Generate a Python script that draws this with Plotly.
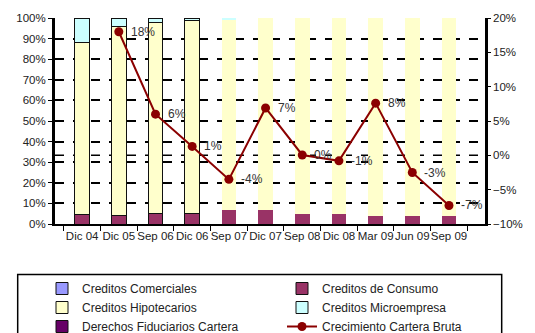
import plotly.graph_objects as go

categories = ["Dic 04", "Dic 05", "Sep 06", "Dic 06", "Sep 07", "Dic 07",
              "Sep 08", "Dic 08", "Mar 09", "Jun 09", "Sep 09"]
comerciales = [0.0, 0.0, 0.0, 0.0, 0.0, 0.0, 0.0, 0.0, 0.0, 0.0, 0.0]
consumo = [0.045, 0.04, 0.05, 0.05, 0.07, 0.07, 0.05, 0.05, 0.04, 0.04, 0.04]
hipotecarios = [0.835, 0.92, 0.93, 0.94, 0.925, 0.93, 0.95, 0.95, 0.96, 0.96, 0.96]
microempresa = [0.12, 0.04, 0.02, 0.01, 0.005, 0.0, 0.0, 0.0, 0.0, 0.0, 0.0]
derechos = [0.0, 0.0, 0.0, 0.0, 0.0, 0.0, 0.0, 0.0, 0.0, 0.0, 0.0]
crecimiento = [None, 0.18, 0.06, 0.013, -0.035, 0.069, 0.0005, -0.008, 0.076, -0.025, -0.073]
crec_labels = ["", "18%", "6%", "1%", "-4%", "7%", "0%", "-1%", "8%", "-3%", "-7%"]

FONT = "Liberation Sans, Arial, sans-serif"
outline = [1, 1, 1, 1, 0, 0, 0, 0, 0, 0, 0]

fig = go.Figure()

def bar(name, vals, color, legend):
    fig.add_trace(go.Bar(
        x=categories, y=vals, name=name, yaxis="y", legend=legend,
        marker=dict(color=color, line=dict(color="#111", width=outline)),
        hoverinfo="skip",
    ))

bar("Creditos Comerciales", comerciales, "#9999FF", "legend")
bar("Creditos de Consumo", consumo, "#993366", "legend2")
bar("Creditos Hipotecarios", hipotecarios, "#FFFFCC", "legend")
bar("Creditos Microempresa", microempresa, "#CCFFFF", "legend2")
bar("Derechos Fiduciarios Cartera", derechos, "#660066", "legend")

fig.add_trace(go.Scatter(
    x=categories, y=crecimiento, name="Crecimiento Cartera Bruta", yaxis="y2",
    legend="legend2", mode="lines+markers",
    line=dict(color="#8B0000", width=2),
    marker=dict(color="#8B0000", size=9, symbol="circle"),
    hoverinfo="skip",
))

for c, v, t in zip(categories, crecimiento, crec_labels):
    if v is None:
        continue
    fig.add_annotation(x=c, y=v, xref="x", yref="y2", text=t, showarrow=False,
                       xanchor="left", yanchor="middle", xshift=10,
                       font=dict(family=FONT, size=12, color="#333"))

fig.add_shape(type="line", xref="paper", yref="y2", x0=0, x1=1, y0=0, y1=0,
              line=dict(color="black", width=1.5, dash="dash"), layer="below")

# legend frame (spans both legend columns)
fig.add_shape(type="rect", xref="paper", yref="paper",
              x0=(17 - 55) / 438, x1=(510 - 55) / 438,
              y0=(224 - 275) / 208, y1=(224 - 345) / 208,
              line=dict(color="black", width=1.5), fillcolor="rgba(0,0,0,0)")

leg_common = dict(
    orientation="h", xref="container", yref="container",
    xanchor="left", yanchor="top",
    entrywidthmode="pixels", entrywidth=200,
    borderwidth=0, bgcolor="rgba(0,0,0,0)",
    font=dict(family=FONT, size=12, color="#222"),
    traceorder="normal", indentation=25, tracegroupgap=0,
)

fig.update_layout(
    width=535, height=333,
    margin=dict(l=55, r=42, t=16, b=109),
    paper_bgcolor="white", plot_bgcolor="white",
    barmode="stack", bargap=0.6,
    font=dict(family=FONT, size=11, color="#222"),
    showlegend=True,
    legend=dict(x=17 / 535, y=(333 - 274) / 333, **leg_common),
    legend2=dict(x=257 / 535, y=(333 - 274) / 333, **leg_common),
    xaxis=dict(
        showline=True, linecolor="black", linewidth=2, tickangle=0,
        ticks="outside", tickson="boundaries", ticklen=5, tickcolor="black",
        showgrid=False, tickfont=dict(size=11.5),
    ),
    yaxis=dict(
        range=[0, 1], dtick=0.1, tickformat=".0%",
        showline=True, linecolor="black", linewidth=3,
        ticks="outside", ticklen=4, tickcolor="black",
        showgrid=True, gridcolor="black", gridwidth=1.5, griddash="dash",
        zeroline=False, tickfont=dict(size=11.5),
    ),
    yaxis2=dict(
        range=[-0.1, 0.2], dtick=0.05, tickformat=".0%",
        overlaying="y", side="right",
        showline=True, linecolor="black", linewidth=2.5,
        ticks="outside", ticklen=3, tickcolor="black",
        showgrid=False, zeroline=False, tickfont=dict(size=11.5),
    ),
)

fig.write_html("out.html")
